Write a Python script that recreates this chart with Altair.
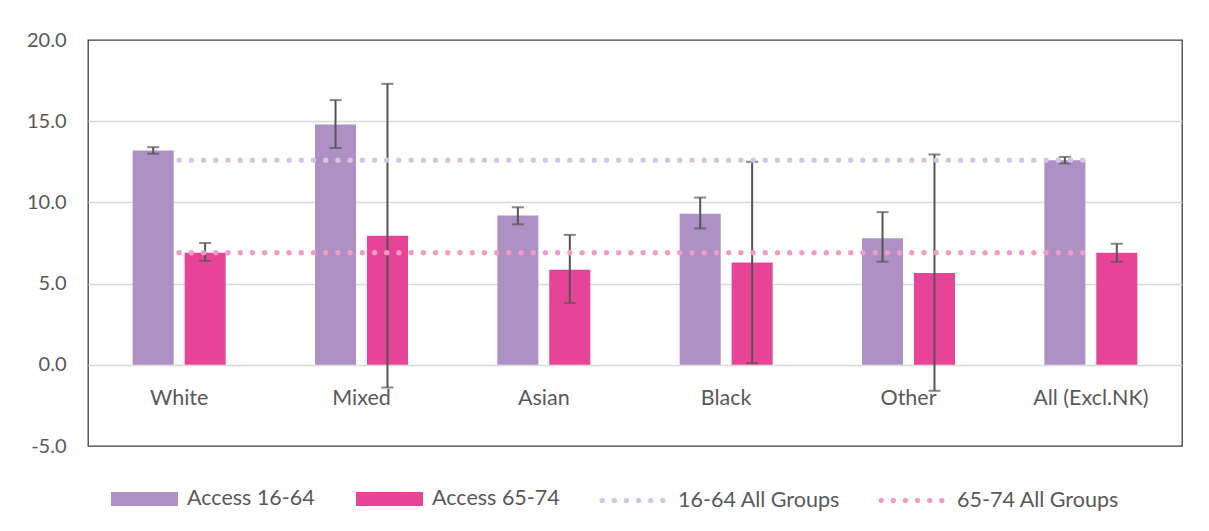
import altair as alt
import pandas as pd

categories = ["White", "Mixed", "Asian", "Black", "Other", "All (Excl.NK)"]
series_names = ["Access 16-64", "Access 65-74"]
access_16_64 = [13.2, 14.8, 9.2, 9.3, 7.8, 12.6]
lo_16_64 = [13.0, 13.35, 8.65, 8.4, 6.35, 12.4]
hi_16_64 = [13.4, 16.3, 9.7, 10.3, 9.4, 12.8]
access_65_74 = [6.9, 7.95, 5.85, 6.3, 5.65, 6.9]
lo_65_74 = [6.4, -1.4, 3.8, 0.1, -1.6, 6.35]
hi_65_74 = [7.5, 17.3, 8.0, 12.5, 12.95, 7.45]
line_names = ["16-64 All Groups", "65-74 All Groups"]
all_groups = [12.6, 6.9]

PURPLE = "#AD91C4"
PINK = "#E84497"
LAV = "#D5C4E6"
LPINK = "#F29AC8"
ERR = "#555555"
TXT = "#595959"
FONT = "Lato"

rows = []
for i, c in enumerate(categories):
    rows.append(dict(cat=c, series=series_names[0], value=access_16_64[i], lo=lo_16_64[i], hi=hi_16_64[i]))
    rows.append(dict(cat=c, series=series_names[1], value=access_65_74[i], lo=lo_65_74[i], hi=hi_65_74[i]))
bars_df = pd.DataFrame(rows)

line_rows = []
for j, name in enumerate(line_names):
    for c in categories:
        line_rows.append(dict(cat=c, line=name, value=all_groups[j]))
lines_df = pd.DataFrame(line_rows)

x_enc = alt.X(
    "cat:N", sort=categories, title=None,
    scale=alt.Scale(paddingInner=0.49, paddingOuter=0.245),
    axis=alt.Axis(labelAngle=0, domain=False, ticks=False, grid=False, offset=-80,
                  labelPadding=21, labelFontSize=21.5, labelColor=TXT, labelFont=FONT),
)
xoff = alt.XOffset("series:N", sort=series_names, scale=alt.Scale(paddingInner=0.21, paddingOuter=0))
y_axis = alt.Axis(values=[-5, 0, 5, 10, 15, 20], format=".1f", domain=False, ticks=False,
                  labelExpr="replace(datum.label, '\u2212', '-')",
                  labelPadding=22, labelFontSize=20, labelColor=TXT, labelFont=FONT,
                  minExtent=75,
                  gridColor={"condition": {"test": "datum.value == 20 || datum.value == -5", "value": "transparent"}, "value": "#D9D9D9"},
                  gridWidth=1.3)
y_scale = alt.Scale(domain=[-5, 20], nice=False)

rect_path = "M-1,-0.209H1V0.209H-1Z"
dot_centers = [-0.918, -0.551, -0.184, 0.184, 0.551, 0.918]
a = 0.04
dots_path = " ".join(
    f"M{cx - a:.3f},0L{cx - a*0.7:.3f},{-a*0.7:.3f}L{cx:.3f},{-a:.3f}L{cx + a*0.7:.3f},{-a*0.7:.3f}L{cx + a:.3f},0L{cx + a*0.7:.3f},{a*0.7:.3f}L{cx:.3f},{a:.3f}L{cx - a*0.7:.3f},{a*0.7:.3f}Z"
    for cx in dot_centers
)

bars = alt.Chart(bars_df).mark_bar().encode(
    x=x_enc, xOffset=xoff,
    y=alt.Y("value:Q", title=None, scale=y_scale, axis=y_axis),
    color=alt.Color("series:N", sort=series_names,
                    scale=alt.Scale(domain=series_names, range=[PURPLE, PINK]),
                    legend=alt.Legend(title=None, orient="none", legendX=23, legendY=425.5,
                                      direction="horizontal", symbolType=rect_path, symbolSize=4489,
                                      symbolStrokeWidth=0, labelFontSize=21.5, labelColor=TXT,
                                      labelFont=FONT, labelOffset=9, columnPadding=41, padding=0,
                                      labelLimit=400)),
)

err = alt.Chart(bars_df).mark_rule(color=ERR, strokeWidth=2).encode(
    x=alt.X("cat:N", sort=categories), xOffset=xoff,
    y=alt.Y("lo:Q", title=None), y2="hi:Q",
)
cap_lo = alt.Chart(bars_df).mark_tick(color=ERR, thickness=2, size=12).encode(
    x=alt.X("cat:N", sort=categories), xOffset=xoff, y=alt.Y("lo:Q", title=None),
)
cap_hi = alt.Chart(bars_df).mark_tick(color=ERR, thickness=2, size=12).encode(
    x=alt.X("cat:N", sort=categories), xOffset=xoff, y=alt.Y("hi:Q", title=None),
)

lines = alt.Chart(lines_df).mark_line(strokeDash=[0.01, 12.2], strokeCap="round", strokeWidth=5.3).encode(
    x=alt.X("cat:N", sort=categories),
    y=alt.Y("value:Q", title=None),
    color=alt.Color("line:N", sort=line_names,
                    scale=alt.Scale(domain=line_names, range=[LAV, LPINK]),
                    legend=alt.Legend(title=None, orient="none", legendX=510, legendY=426,
                                      direction="horizontal", symbolType=dots_path, symbolSize=4356,
                                      symbolStrokeWidth=2.8, symbolDash=[1, 0], labelFontSize=21.5, labelColor=TXT,
                                      labelFont=FONT, labelOffset=11, columnPadding=34, padding=0,
                                      labelLimit=400)),
)

chart = alt.layer(bars, err, cap_lo, cap_hi, lines).resolve_scale(color="independent").properties(
    width=1094, height=406,
    padding={"top": 22, "left": 5, "right": 5, "bottom": 5},
).configure(background="white").configure_view(stroke="#3F3F3F", strokeWidth=1.3)

chart.save("out.html", embed_options={"renderer": "svg", "actions": False})
